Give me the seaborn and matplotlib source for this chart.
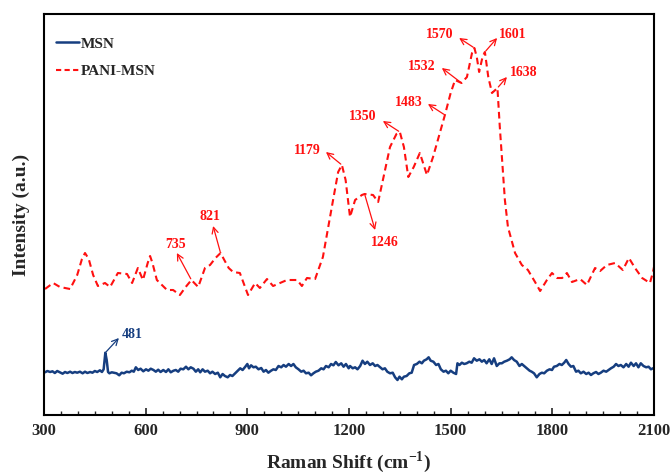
import numpy as np
import pandas as pd
import matplotlib
matplotlib.use("Agg")
import matplotlib.pyplot as plt
import seaborn as sns

# Raman spectra (wavenumber in cm^-1, intensity in arbitrary units)
pani_shift = [303, 327, 347, 377, 398, 412, 421, 432, 445, 459, 480, 495, 518, 545, 560,
              577, 592, 606, 613, 620, 633, 663, 681, 701, 718, 735, 755, 775, 790, 806,
              821, 832, 845, 858, 878, 902, 923, 937, 958, 976, 1017, 1047, 1061, 1076,
              1100, 1123, 1153, 1168, 1179, 1190, 1203, 1218, 1238, 1246, 1271, 1286, 1300,
              1321, 1340, 1350, 1362, 1375, 1391, 1409, 1430, 1448, 1483, 1500, 1513, 1532,
              1548, 1563, 1570, 1577, 1584, 1594, 1601, 1611, 1622, 1638, 1645, 1660, 1669,
              1690, 1710, 1728, 1749, 1764, 1784, 1799, 1814, 1829, 1843, 1858, 1882, 1902,
              1926, 1941, 1961, 1985, 2008, 2026, 2044, 2065, 2088, 2097, 2100]
pani_int = [126, 132, 128, 126, 140, 156, 162, 156, 140, 129, 132, 128, 142, 141, 132,
            147, 135, 152, 159, 152, 135, 125, 125, 120, 128, 135, 128, 147, 150, 157,
            162, 155, 147, 143, 142, 120, 132, 127, 136, 129, 135, 135, 129, 137,
            136, 158, 215, 243, 250, 235, 198, 215, 220, 221, 220, 213, 235,
            268, 281, 283, 268, 238, 248, 262, 240, 258, 300, 322, 335, 332,
            338, 362, 367, 358, 343, 358, 363, 338, 322, 327, 288, 215, 188,
            162, 150, 145, 133, 124, 135, 142, 137, 137, 142, 133, 136, 130,
            147, 144, 150, 152, 145, 157, 147, 137, 132, 143, 148]

msn_shift = [303, 310, 318, 325, 332, 339, 347, 355, 362, 369, 377, 384, 391, 398, 406,
             414, 421, 428, 436, 443, 450, 457, 465, 471, 476, 481, 485, 489, 493, 500,
             506, 514, 522, 529, 536, 544, 552, 559, 565, 571, 578, 585, 593, 601, 608,
             615, 623, 630, 637, 644, 652, 660, 667, 674, 682, 689, 696, 703, 711, 719,
             726, 733, 741, 748, 755, 761, 768, 775, 783, 790, 797, 805, 813, 820, 827,
             834, 842, 849, 856, 864, 872, 879, 886, 894, 900, 905, 911, 918, 925, 933,
             941, 948, 955, 962, 970, 977, 984, 992, 1000, 1007, 1014, 1022, 1029, 1036,
             1043, 1051, 1059, 1066, 1073, 1081, 1088, 1095, 1102, 1110, 1118, 1125, 1132,
             1140, 1147, 1154, 1161, 1169, 1177, 1184, 1191, 1199, 1203, 1211, 1218, 1225,
             1233, 1240, 1247, 1254, 1262, 1270, 1277, 1284, 1292, 1299, 1306, 1313, 1321,
             1329, 1336, 1343, 1349, 1356, 1362, 1370, 1378, 1385, 1392, 1400, 1408, 1415,
             1421, 1429, 1435, 1441, 1449, 1457, 1464, 1471, 1479, 1486, 1493, 1500, 1508,
             1516, 1520, 1526, 1533, 1540, 1547, 1555, 1562, 1569, 1577, 1585, 1592, 1599,
             1606, 1614, 1621, 1628, 1636, 1644, 1651, 1658, 1666, 1674, 1680, 1687, 1695,
             1703, 1710, 1717, 1725, 1733, 1739, 1746, 1754, 1762, 1769, 1776, 1784, 1792,
             1799, 1805, 1813, 1821, 1828, 1835, 1841, 1848, 1855, 1862, 1870, 1877, 1884,
             1892, 1900, 1907, 1914, 1921, 1929, 1936, 1943, 1951, 1959, 1966, 1973, 1981,
             1988, 1995, 2002, 2010, 2018, 2025, 2032, 2040, 2047, 2054, 2061, 2069, 2077,
             2084, 2091, 2097, 2100]
msn_int = [42.7, 44, 43, 43.7, 42, 44, 42.7, 41.3, 43, 42, 43.3, 42, 43, 42.3, 43.3,
           41.7, 43.3, 42, 43, 42.3, 44, 43, 44.7, 43, 45.7, 62.3, 55, 43, 41.7, 42.7,
           42.3, 41.7, 39.7, 42.3, 41.7, 43.3, 42.7, 44.3, 43.3, 47.7, 45, 46.3, 43.7, 45.7, 44.3,
           46.3, 45, 43.3, 45.3, 43, 45, 43, 45.7, 42.7, 44.3, 45, 43.3, 46.3, 45.7, 48.3,
           45.7, 47.7, 46.3, 43.3, 45.7, 42.7, 45.7, 43.3, 44.3, 41.7, 43.3, 41, 42.3, 37.7, 41,
           39, 37.7, 40, 39, 41.7, 44.3, 46.7, 45, 48.3, 51, 46.7, 49.7, 47.7, 48.3, 45.7,
           47, 43.3, 45, 42.3, 44.3, 45.7, 45, 49, 47.7, 50, 48.3, 51, 49, 51,
           47.7, 45.7, 43.3, 44.3, 41.7, 42.3, 39.7, 41.7, 43.3, 44.3, 46.7, 45.7, 49,
           47.7, 51, 49.7, 53, 49.7, 51.7, 48.3, 51, 46.7, 49, 46.7, 47.7, 45.7,
           49, 54.3, 51, 53.3, 50, 51.7, 49, 50, 47.7, 45.7, 46.7, 43.3, 41.7,
           42.3, 37.7, 35, 38.3, 35.7, 38.3, 39, 41.7, 42.3, 50, 51, 53.3, 51.7,
           54.3, 55.7, 57.7, 54.3, 53.3, 50, 51, 45.7, 43.3, 44.3, 41.7, 44.3, 42.3,
           41, 51.7, 50, 52.3, 51, 51.7, 53.3, 52.3, 56.7, 54.3, 55.7, 53.3, 55,
           51.7, 55.7, 51, 56.7, 49, 51.7, 51.7, 53.3, 54.3, 55.7, 57.7, 55, 53.3,
           49, 51, 49, 46.7, 44.3, 43.3, 41.7, 37.7, 41, 42.3, 41.7, 44.3, 45.7,
           45, 48.3, 49, 51, 50, 52.3, 55, 51, 48.3, 49, 43.3, 44.3, 41.7,
           43.3, 41, 42.3, 40, 41.7, 43, 41, 42.3, 44.3, 43.3, 45, 46.7, 48.3,
           51, 49, 50, 47.7, 51, 48.3, 52.3, 49, 51.7, 47.7, 51.7, 49, 47.7,
           48.3, 45.7, 46.7, 47]

# Peak labels: (label x, label y) and arrow head position for each value
pani_peaks = [1570, 1601, 1532, 1638, 1483, 1350, 1179, 1246, 735, 821]
pani_label_xy = [(1468, 380), (1684, 380), (1415, 348), (1716, 342), (1377, 313),
                 (1241, 298), (1076, 265), (1306, 172), (687, 171), (790, 199)]
pani_head_xy = [(1525, 377), (1637, 377), (1474, 347), (1666, 338), (1433, 311),
                (1300, 294), (1132, 263), (1277, 185), (692, 162), (799, 189)]
msn_peaks = [481]
msn_label_xy = [(560, 80)]
msn_head_xy = [(521, 77)]

RED = "#FF1010"
BLUE = "#163E80"

sns.set_theme(style="white")
plt.rcParams["font.family"] = ["Liberation Serif", "DejaVu Serif"]
plt.rcParams["font.weight"] = "bold"
plt.rcParams["mathtext.fontset"] = "custom"
plt.rcParams["mathtext.rm"] = "Liberation Serif:bold"
plt.rcParams["mathtext.bf"] = "Liberation Serif:bold"

fig = plt.figure(figsize=(6.71, 4.74), dpi=100)
ax = fig.add_axes([44 / 671, 59 / 474, 610 / 671, 401 / 474])

msn = pd.DataFrame({"shift": msn_shift, "intensity": msn_int})
pani = pd.DataFrame({"shift": pani_shift, "intensity": pani_int})

sns.lineplot(data=msn, x="shift", y="intensity", ax=ax, color=BLUE, lw=1.8,
             label="MSN", sort=False)
sns.lineplot(data=pani, x="shift", y="intensity", ax=ax, color=RED, lw=1.5,
             label="PANI-MSN", sort=False)
ax.lines[1].set_dashes((3.2, 2.0))

ax.set_xlim(300, 2100)
ax.set_ylim(0, 401)
ax.set_xticks(np.arange(300, 2101, 300))
ax.set_xticks(np.arange(300, 2101, 50), minor=True)
ax.set_yticks([])
ax.tick_params(axis="x", which="major", direction="in", length=5, width=1.2,
               labelsize=12, pad=6, bottom=True, top=False)
ax.tick_params(axis="x", which="minor", direction="in", length=3, width=1.0,
               bottom=True, top=False)
for lbl in ax.get_xticklabels():
    lbl.set_fontweight("bold")
for sp in ax.spines.values():
    sp.set_color("black")
    sp.set_linewidth(1.5)

ax.set_xlabel(r"Raman Shift (cm$^{-1}$)", fontsize=14, fontweight="bold", labelpad=7)
ax.set_ylabel("Intensity (a.u.)", fontsize=14, fontweight="bold", labelpad=10)


def mark_peaks(peaks, label_xy, head_xy, xs, ys, color):
    for val, (tx, ty), (hx, hy) in zip(peaks, label_xy, head_xy):
        py = float(np.interp(val, xs, ys))
        ax.annotate("", xy=(hx, hy), xytext=(val, py),
                    arrowprops=dict(arrowstyle="->", color=color, lw=0.9,
                                    shrinkA=1, shrinkB=0, mutation_scale=11))
        ax.text(tx, ty, str(val), color=color, fontsize=10, fontweight="bold",
                ha="center", va="center")


mark_peaks(pani_peaks, pani_label_xy, pani_head_xy, pani_shift, pani_int, RED)
mark_peaks(msn_peaks, msn_label_xy, msn_head_xy, msn_shift, msn_int, BLUE)

leg = ax.legend(loc="upper left", bbox_to_anchor=(0.01, 0.958), borderaxespad=0,
                frameon=False, handlelength=1.5, handletextpad=0.1, labelspacing=0.9,
                prop={"family": "Liberation Serif", "weight": "bold", "size": 11})
leg.get_lines()[1].set_dashes((2.5, 1.6))

fig.savefig("out.png", dpi=100)
